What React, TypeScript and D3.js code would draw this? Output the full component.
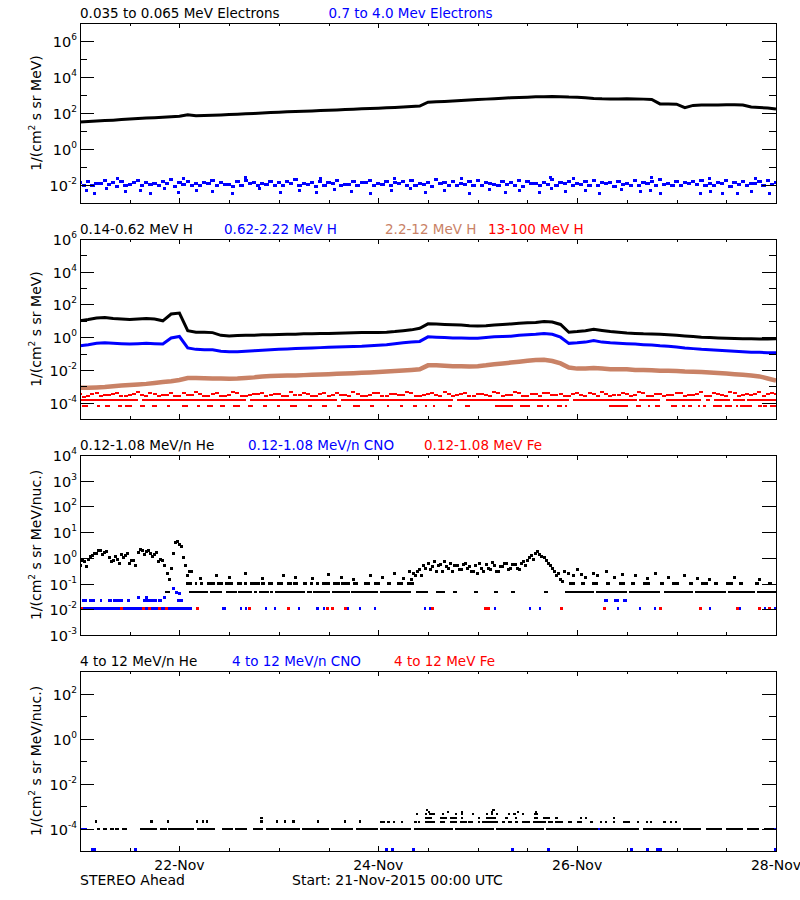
import React from "react";
import * as d3 from "d3";

// ---------------- time base ----------------
const START = Date.UTC(2015, 10, 21);
const END = Date.UTC(2015, 10, 28);
const HOUR = 3600e3;

// ---------------- titles / labels ----------------
const titles1 = ["0.035 to 0.065 MeV Electrons", "0.7 to 4.0 Mev Electrons"];
const titles2 = ["0.14-0.62 MeV H", "0.62-2.22 MeV H", "2.2-12 MeV H", "13-100 MeV H"];
const titles3 = ["0.12-1.08 MeV/n He", "0.12-1.08 MeV/n CNO", "0.12-1.08 MeV Fe"];
const titles4 = ["4 to 12 MeV/n He", "4 to 12 MeV/n CNO", "4 to 12 MeV Fe"];
const footLeft = "STEREO Ahead";
const footMid = "Start: 21-Nov-2015 00:00 UTC";

// ---------------- panel 1: electrons (2-hour samples) ----------------
const eLowBlack = [
  32, 34, 36, 38, 40, 43, 46, 49, 52, 55, 58, 62,
  66, 80, 70, 72, 75, 78, 82, 86, 90, 95, 100, 105,
  110, 116, 120, 126, 131, 137, 142, 148, 155, 162, 170, 178,
  186, 195, 205, 215, 230, 245, 400, 420, 440, 460, 490, 520,
  560, 590, 620, 660, 700, 730, 760, 790, 810, 820, 800, 770,
  760, 700, 640, 610, 600, 600, 610, 605, 590, 560, 320, 315,
  310, 200, 265, 275, 280, 280, 285, 285, 280, 215, 200, 190,
  165,
];
const eHighBlueEven = [
  0.014, 0.016, 0.012, 0.018, 0.013, 0.015, 0.011, 0.017, 0.014, 0.012, 0.016, 0.019,
  0.013, 0.015, 0.012, 0.014, 0.017, 0.013, 0.011, 0.015, 0.018, 0.014, 0.012, 0.016,
  0.013, 0.015, 0.019, 0.012, 0.014, 0.016, 0.013, 0.017, 0.011, 0.015, 0.014, 0.018,
  0.012, 0.016, 0.013, 0.015, 0.017, 0.012, 0.014, 0.019, 0.013, 0.016, 0.012, 0.015,
  0.018, 0.014, 0.011, 0.016, 0.013, 0.017, 0.015, 0.012, 0.014, 0.020, 0.013, 0.016,
  0.012, 0.015, 0.018, 0.014, 0.013, 0.016, 0.012, 0.017, 0.014, 0.015, 0.019, 0.012,
  0.016, 0.013, 0.015, 0.017, 0.012, 0.014, 0.018, 0.013, 0.016, 0.012, 0.015, 0.017,
  0.014,
];
const eHighBlueOdd = [
  0.010, 0.009, 0.012, 0.011, 0.008, 0.010, 0.013, 0.009, 0.011, 0.010, 0.012, 0.008,
  0.011, 0.010, 0.009, 0.012, 0.010, 0.011, 0.008, 0.010, 0.012, 0.009, 0.011, 0.010,
  0.009, 0.012, 0.010, 0.011, 0.008, 0.010, 0.012, 0.009, 0.011, 0.010, 0.013, 0.009,
  0.011, 0.010, 0.012, 0.009, 0.010, 0.011, 0.008, 0.012, 0.010, 0.009, 0.011, 0.010,
  0.010, 0.012, 0.009, 0.011, 0.010, 0.008, 0.012, 0.010, 0.011, 0.009, 0.012, 0.010,
  0.011, 0.009, 0.010, 0.012, 0.008, 0.011, 0.010, 0.009, 0.012, 0.010, 0.011, 0.009,
  0.010, 0.012, 0.011, 0.009, 0.010, 0.012, 0.008, 0.011, 0.010, 0.012, 0.009, 0.011,
];
const eHighBlueOutliers: [number, number][] = [
  [1.5, 0.005], [3.6, 0.0035], [6.5, 0.006], [10.9, 0.0045], [14.5, 0.005], [16.9, 0.0035],
  [20.5, 0.006], [23.7, 0.004], [28, 0.005], [31.9, 0.0045], [36.9, 0.0035], [43.4, 0.006],
  [48.3, 0.004], [53.1, 0.005], [57, 0.0038], [61.5, 0.0055], [65.6, 0.0045], [70, 0.0035],
  [75.3, 0.005], [79.7, 0.006], [83.3, 0.004], [88.1, 0.0048], [94.1, 0.0035], [98.9, 0.0055],
  [102.6, 0.004], [106.2, 0.005], [111, 0.0038], [113.9, 0.006], [117.1, 0.0045], [121.9, 0.005],
  [125.5, 0.0035], [130.8, 0.0055], [135.2, 0.0045], [137.6, 0.005], [140, 0.0032], [149.7, 0.0035],
  [152.1, 0.0045], [155, 0.0032], [158.6, 0.0035], [162.2, 0.0045], [166.5, 0.0035],
  [9, 0.024], [25, 0.023], [40, 0.025], [58, 0.022], [76, 0.024], [92, 0.023],
  [113.5, 0.026], [119, 0.024], [138, 0.025], [152, 0.022], [163, 0.024],
];

// ---------------- panel 2: protons (2-hour samples) ----------------
const hLowBlack = [
  10, 12, 15, 16, 14, 13, 12, 13, 14, 13, 10, 26,
  30, 2.5, 2.0, 2.0, 1.9, 1.3, 1.2, 1.25, 1.3, 1.3, 1.4, 1.4,
  1.45, 1.5, 1.5, 1.6, 1.6, 1.7, 1.7, 1.75, 1.8, 1.85, 1.9, 1.9,
  1.9, 2.0, 2.2, 2.5, 2.8, 3.5, 6.5, 6.3, 6.0, 5.8, 5.5, 5.0,
  4.8, 5.0, 5.5, 6.0, 6.5, 7.0, 7.5, 8.0, 9.0, 8.5, 6.0, 2.0,
  2.2, 2.5, 3.0, 2.6, 2.2, 2.0, 1.8, 1.7, 1.6, 1.55, 1.5, 1.4,
  1.3, 1.2, 1.1, 1.0, 0.95, 0.9, 0.85, 0.82, 0.8, 0.8, 0.78, 0.78,
  0.8,
];
const hMidBlue = [
  0.30, 0.35, 0.42, 0.45, 0.42, 0.40, 0.38, 0.40, 0.42, 0.40, 0.38, 0.9,
  1.1, 0.22, 0.18, 0.17, 0.17, 0.14, 0.13, 0.13, 0.14, 0.15, 0.16, 0.17,
  0.18, 0.19, 0.20, 0.21, 0.22, 0.23, 0.24, 0.25, 0.26, 0.27, 0.28, 0.30,
  0.32, 0.35, 0.40, 0.45, 0.50, 0.55, 1.05, 1.0, 0.95, 0.90, 0.88, 0.85,
  0.85, 0.95, 1.05, 1.1, 1.15, 1.3, 1.4, 1.5, 1.7, 1.5, 1.0, 0.42,
  0.45, 0.50, 0.62, 0.50, 0.45, 0.42, 0.40, 0.38, 0.35, 0.33, 0.30, 0.28,
  0.25, 0.22, 0.20, 0.18, 0.17, 0.16, 0.15, 0.14, 0.13, 0.12, 0.12, 0.11,
  0.11,
];
const hHighBrown = [
  8e-4, 8e-4, 8.5e-4, 9e-4, 1e-3, 1.1e-3, 1.2e-3, 1.3e-3, 1.4e-3, 1.6e-3, 1.8e-3, 2.0e-3,
  2.4e-3, 3.2e-3, 3.2e-3, 3.1e-3, 3.0e-3, 3.0e-3, 2.9e-3, 3.0e-3, 3.2e-3, 3.5e-3, 4.0e-3, 4.3e-3,
  4.4e-3, 4.5e-3, 4.6e-3, 4.8e-3, 5.0e-3, 5.2e-3, 5.5e-3, 5.8e-3, 6.0e-3, 6.3e-3, 6.6e-3, 7.0e-3,
  7.5e-3, 8.0e-3, 8.5e-3, 9.2e-3, 0.010, 0.011, 0.019, 0.019, 0.018, 0.017, 0.017, 0.016,
  0.017, 0.019, 0.022, 0.025, 0.028, 0.032, 0.036, 0.040, 0.042, 0.035, 0.025, 0.014,
  0.012, 0.012, 0.013, 0.012, 0.011, 0.011, 0.011, 0.010, 0.010, 0.0095, 0.009, 0.0088,
  0.0085, 0.008, 0.0078, 0.0075, 0.007, 0.0065, 0.006, 0.0055, 0.005, 0.0045, 0.004, 0.003,
  0.0022,
];
const hTopRedEven = [
  3.2e-4, 2.5e-4, 4.0e-4, 2.8e-4, 3.5e-4, 2.4e-4, 3.0e-4, 4.2e-4, 2.6e-4, 3.3e-4, 2.9e-4, 3.8e-4,
  2.5e-4, 3.1e-4, 4.4e-4, 2.7e-4, 3.4e-4, 2.4e-4, 3.0e-4, 3.9e-4, 2.6e-4, 3.2e-4, 4.1e-4, 2.8e-4,
  3.5e-4, 2.5e-4, 3.0e-4, 4.0e-4, 2.7e-4, 3.3e-4, 2.4e-4, 3.7e-4, 2.9e-4, 4.3e-4, 2.6e-4, 3.1e-4,
  3.8e-4, 2.5e-4, 3.2e-4, 2.8e-4, 4.1e-4, 2.6e-4, 3.4e-4, 3.0e-4, 4.5e-4, 2.7e-4, 3.3e-4, 2.5e-4,
  3.6e-4, 2.9e-4, 4.2e-4, 2.6e-4, 3.1e-4, 3.8e-4, 2.5e-4, 3.4e-4, 4.0e-4, 2.8e-4, 3.2e-4, 2.6e-4,
  3.9e-4, 2.7e-4, 3.3e-4, 4.4e-4, 2.5e-4, 3.0e-4, 3.6e-4, 2.8e-4, 4.1e-4, 2.6e-4, 3.4e-4, 2.9e-4,
  3.7e-4, 2.5e-4, 3.1e-4, 4.3e-4, 2.7e-4, 3.5e-4, 2.6e-4, 3.9e-4, 3.0e-4, 2.8e-4, 4.2e-4, 3.2e-4,
  3.6e-4,
];
const hTopRedOdd = [
  2.3e-4, 3.6e-4, 2.7e-4, 3.0e-4, 4.1e-4, 2.5e-4, 3.4e-4, 2.8e-4, 3.9e-4, 2.4e-4, 3.1e-4, 2.6e-4,
  4.0e-4, 2.9e-4, 3.3e-4, 2.4e-4, 3.7e-4, 2.7e-4, 4.3e-4, 2.5e-4, 3.0e-4, 3.5e-4, 2.4e-4, 3.2e-4,
  2.6e-4, 4.2e-4, 2.8e-4, 3.4e-4, 2.5e-4, 3.9e-4, 2.9e-4, 3.1e-4, 2.4e-4, 3.6e-4, 2.7e-4, 4.0e-4,
  2.5e-4, 3.3e-4, 2.9e-4, 4.4e-4, 2.6e-4, 3.1e-4, 3.8e-4, 2.4e-4, 3.5e-4, 2.8e-4, 4.1e-4, 2.6e-4,
  3.2e-4, 2.5e-4, 3.7e-4, 2.9e-4, 4.3e-4, 2.7e-4, 3.4e-4, 2.4e-4, 3.9e-4, 3.0e-4, 2.6e-4, 3.6e-4,
  2.8e-4, 4.0e-4, 2.5e-4, 3.3e-4, 2.9e-4, 3.7e-4, 2.4e-4, 4.2e-4, 2.7e-4, 3.5e-4, 2.6e-4, 3.1e-4,
  4.1e-4, 2.9e-4, 3.4e-4, 2.5e-4, 3.8e-4, 2.8e-4, 4.4e-4, 2.6e-4, 3.2e-4, 3.6e-4, 2.5e-4, 3.9e-4,
];
// quantised red levels: [startHour, endHour, value]
const hTopRedLevel: [number, number, number][] = [
  [0, 14, 1.55e-4], [15, 40, 1.55e-4], [41, 62, 1.55e-4], [63, 90, 1.55e-4], [91, 118, 1.55e-4],
  [119, 134.5, 1.55e-4], [135, 140, 1.55e-4], [141.5, 150, 1.55e-4], [151, 152, 1.55e-4],
  [153, 157, 1.55e-4], [157.5, 160.5, 1.55e-4], [161, 168, 1.55e-4],
];
const hTopRedLow: [number, number, number][] = [
  [0.4, 2, 6.5e-5], [4, 4.8, 6.5e-5], [6, 7.2, 6.5e-5], [9.2, 10.1, 6.5e-5], [10.9, 12.5, 6.5e-5],
  [14.5, 15.7, 6.5e-5], [17.4, 18.6, 6.5e-5], [21, 21.7, 6.5e-5], [24.6, 26, 6.5e-5], [28.2, 29, 6.5e-5],
  [30.7, 32.1, 6.5e-5], [33.8, 35, 6.5e-5], [37, 38.6, 6.5e-5], [40.6, 41.8, 6.5e-5], [44.2, 45.2, 6.5e-5],
  [47.5, 48.3, 6.5e-5], [50.7, 52.4, 6.5e-5], [55, 56, 6.5e-5], [58.5, 59.5, 6.5e-5], [62, 63, 6.5e-5],
  [66, 67.5, 6.5e-5], [70, 71, 6.5e-5], [74, 74.4, 6.5e-5], [77.2, 78, 6.5e-5], [80.4, 81.3, 6.5e-5],
  [83.3, 83.8, 6.5e-5], [85.2, 85.7, 6.5e-5], [88.8, 89.8, 6.5e-5], [93, 94.1, 6.5e-5], [100.2, 104.6, 6.5e-5],
  [106.2, 108.6, 6.5e-5], [110.3, 111.8, 6.5e-5], [112.7, 113, 6.5e-5], [115.1, 116.3, 6.5e-5],
  [117.1, 117.5, 6.5e-5], [127.7, 132.3, 6.5e-5], [134.2, 135.4, 6.5e-5], [137.1, 137.6, 6.5e-5],
  [138.8, 140, 6.5e-5], [142.6, 144.1, 6.5e-5], [145.3, 146, 6.5e-5], [146.8, 147.8, 6.5e-5],
  [149.2, 149.7, 6.5e-5], [150.4, 151.1, 6.5e-5], [152.8, 155, 6.5e-5], [155.7, 157.4, 6.5e-5],
  [158.3, 158.8, 6.5e-5], [159.3, 162.2, 6.5e-5], [163.6, 164.6, 6.5e-5], [164.9, 165.8, 6.5e-5],
  [166.5, 168, 6.5e-5],
];

// ---------------- panel 3: low-energy heavy ions ----------------
// hourly samples, hours 0..26
const heLowEarlyA = [0.5, 0.7, 0.9, 1.2, 1.5, 1.9, 1.6, 1.0, 0.8, 0.9, 1.3, 1.2, 0.6, 0.8, 1.6, 2.0, 1.7, 1.5, 1.3, 0.7, 0.8, 0.25, 0.4, 3.8, 3.2, 1.0, 0.2];
const heLowEarlyB = [0.8, 0.45, 1.1, 1.5, 2.0, 1.4, 1.8, 0.7, 1.1, 0.6, 1.0, 1.5, 0.8, 0.5, 2.1, 1.4, 1.9, 1.1, 1.6, 0.9, 0.5, 0.15, 1.5, 4.2, 2.8, 0.5, 0.3];
// hourly samples, hours 80..116
const heLowMidA = [0.15, 0.2, 0.35, 0.5, 0.6, 0.45, 0.3, 0.55, 0.7, 0.4, 0.3, 0.5, 0.35, 0.6, 0.45, 0.3, 0.25, 0.4, 0.55, 0.35, 0.5, 0.3, 0.45, 0.6, 0.4, 0.55, 0.35, 0.7, 0.8, 1.2, 1.5, 1.3, 1.0, 0.6, 0.4, 0.2, 0.15];
const heLowMidB = [0.25, 0.3, 0.2, 0.4, 0.35, 0.7, 0.5, 0.3, 0.45, 0.6, 0.5, 0.35, 0.55, 0.4, 0.3, 0.5, 0.6, 0.3, 0.4, 0.65, 0.3, 0.45, 0.6, 0.35, 0.55, 0.4, 0.6, 0.5, 1.0, 0.9, 1.8, 1.1, 0.8, 0.5, 0.3, 0.25, 0.12];
const heLowScatter: [number, number][] = [
  [27, 0.3], [29, 0.16], [33, 0.2], [36, 0.18], [40, 0.25], [44, 0.16], [49, 0.2], [52, 0.17],
  [56, 0.16], [60, 0.22], [63, 0.18], [66, 0.15], [70, 0.2], [73, 0.17], [76, 0.25], [78, 0.16],
  [79.5, 0.3], [117, 0.3], [118, 0.25], [119, 0.2], [120, 0.35], [121, 0.22], [122, 0.18], [124, 0.25],
  [125, 0.2], [127, 0.3], [129, 0.18], [131, 0.22], [134, 0.2], [137, 0.16], [139, 0.25], [142, 0.18],
  [146, 0.2], [149, 0.16], [152, 0.15], [158, 0.17], [164, 0.15],
];
const heLowOneCount: [number, number, number][] = [
  [20.5, 21.7, 0.048], [26.3, 30.9, 0.048], [31.4, 34.3, 0.048], [35.2, 37.9, 0.048], [38.1, 41.5, 0.048],
  [42, 42.7, 0.048], [43.2, 45.6, 0.048], [45.9, 46.6, 0.048], [47, 54.3, 0.048], [54.8, 56, 0.048],
  [56.2, 60.3, 0.048], [60.8, 65.2, 0.048], [65.5, 72, 0.048], [72.5, 80, 0.048], [81, 84, 0.048],
  [86, 88, 0.048], [90, 91, 0.048], [95, 96, 0.048], [100, 101, 0.048], [104, 105, 0.048],
  [112, 113, 0.048], [117, 124, 0.048], [124.5, 132, 0.048], [132.5, 140, 0.048], [141, 148, 0.048],
  [148.5, 156, 0.048], [156.5, 163, 0.048], [163.5, 168, 0.048],
];
const heLowTwoCount: [number, number, number][] = [
  [25.6, 27, 0.1], [27.8, 28.2, 0.1], [29, 29.7, 0.1], [30.6, 32.6, 0.1], [33.1, 34.4, 0.1],
  [35, 36.9, 0.1], [37.8, 39, 0.1], [39.5, 40.2, 0.1], [41, 43.4, 0.1], [43.7, 44.6, 0.1],
  [45.4, 46.6, 0.1], [47.5, 49.1, 0.1], [49.9, 51.1, 0.1], [51.5, 52.7, 0.1], [53.9, 54.7, 0.1],
  [55.5, 56.3, 0.1], [57, 57.8, 0.1], [58.3, 60.3, 0.1], [61.1, 62.7, 0.1], [63.1, 65.2, 0.1],
  [66, 67, 0.1], [68.5, 70, 0.1], [71, 72.5, 0.1], [74, 75, 0.1], [76.5, 78, 0.1], [79, 80.5, 0.1],
  [118, 119.5, 0.1], [121, 122, 0.1], [123.5, 125, 0.1], [127, 128, 0.1], [130, 131.5, 0.1],
  [133, 134, 0.1], [136, 137.5, 0.1], [140, 141, 0.1], [143, 144.5, 0.1], [147, 148, 0.1],
  [150, 151.5, 0.1], [153, 154, 0.1], [156, 157.5, 0.1], [159, 160, 0.1], [163, 164, 0.1], [166, 167, 0.1],
];
const cnoLowRuns: [number, number, number][] = [
  [0, 27, 0.0105], [34.3, 35.2, 0.0105], [38.6, 39, 0.0105], [39.8, 40.2, 0.0105], [44.7, 45, 0.0105],
  [46.8, 47.3, 0.0105], [52.6, 53, 0.0105], [57, 57.8, 0.0105], [58.6, 59, 0.0105], [64.4, 64.8, 0.0105],
  [67.4, 67.8, 0.0105], [71, 71.4, 0.0105], [83.1, 83.5, 0.0105], [84.3, 84.7, 0.0105], [97.6, 98, 0.0105],
  [100, 100.4, 0.0105], [108.4, 108.8, 0.0105], [110.8, 111.2, 0.0105], [126.5, 126.9, 0.0105],
  [129.6, 130, 0.0105], [135, 135.4, 0.0105], [138.6, 139, 0.0105], [149.5, 149.9, 0.0105],
  [151.9, 152.3, 0.0105], [159.1, 159.5, 0.0105], [165.1, 165.5, 0.0105], [167.6, 168, 0.0105],
  [0.5, 1.7, 0.022], [2.2, 3.5, 0.022], [4.8, 5.3, 0.022], [6.8, 7.7, 0.022], [8, 10.4, 0.022],
  [11.3, 12.1, 0.022], [15.3, 18.6, 0.022], [18.9, 19.8, 0.022], [23.4, 24.9, 0.022],
  [126.5, 127.5, 0.022], [129, 130, 0.022], [131, 132, 0.022],
];
const cnoLowDots: [number, number][] = [[22.5, 0.065], [23.2, 0.045], [24, 0.04], [16, 0.03], [14, 0.028], [20.5, 0.03]];
const feLowDots: [number, number][] = [
  [0.3, 0.0105], [10, 0.0105], [15.3, 0.0105], [16.7, 0.0105], [19.1, 0.0105], [20.9, 0.0105],
  [28.4, 0.0105], [41, 0.0105], [50.3, 0.0105], [59.8, 0.0105], [60.9, 0.0105], [64, 0.0105],
  [85, 0.0105], [97.8, 0.0105], [98.5, 0.0105], [116.3, 0.0105], [126.7, 0.0105], [140, 0.0105],
  [149.7, 0.0105], [158.8, 0.0105], [164, 0.0105], [166.5, 0.0105],
];

// ---------------- panel 4: high-energy heavy ions ----------------
const heHighRuns: [number, number, number][] = [
  [4, 4.8, 1e-4], [5.6, 6.4, 1e-4], [7.3, 8.1, 1e-4], [8.5, 9.3, 1e-4], [10.1, 11.3, 1e-4],
  [14.5, 18.5, 1e-4], [19.3, 20.9, 1e-4], [21.3, 27.4, 1e-4], [28.2, 32.6, 1e-4], [34.2, 37, 1e-4],
  [37.4, 40.2, 1e-4], [41.8, 44.2, 1e-4], [45, 53, 1e-4], [53.5, 60, 1e-4], [60.5, 66, 1e-4],
  [66.5, 72, 1e-4], [72.4, 80, 1e-4], [80.5, 90, 1e-4], [90.5, 100, 1e-4], [100.5, 112, 1e-4],
  [112.5, 125, 1e-4], [125.5, 135, 1e-4], [136, 145, 1e-4], [145.5, 150, 1e-4], [151, 155, 1e-4],
  [156, 160, 1e-4], [161, 164, 1e-4], [165, 167.5, 1e-4],
  [72.4, 73.6, 2e-4], [74, 74.8, 2e-4], [75.6, 76, 2e-4], [77.6, 78, 2e-4], [80.5, 81.3, 2e-4],
  [81.7, 82.1, 2e-4], [83.3, 85.7, 2e-4], [86.9, 88.1, 2e-4], [89.3, 90.9, 2e-4], [91.7, 93.3, 2e-4],
  [93.7, 94.9, 2e-4], [96.1, 96.5, 2e-4], [97, 101, 2e-4], [101.8, 102.6, 2e-4], [103.4, 104.2, 2e-4],
  [105, 105.8, 2e-4], [106.6, 108.6, 2e-4], [109.4, 112.6, 2e-4], [113, 114.2, 2e-4], [114.6, 116.6, 2e-4],
  [117.9, 118.7, 2e-4], [119.9, 121.1, 2e-4], [123.1, 123.9, 2e-4], [125.5, 125.9, 2e-4],
  [126.7, 127.1, 2e-4], [128.7, 129.1, 2e-4], [131.1, 132.7, 2e-4], [134.4, 134.8, 2e-4],
  [136.6, 137, 2e-4], [137.7, 138, 2e-4], [140.8, 141.4, 2e-4], [142.4, 143, 2e-4], [143.6, 144, 2e-4],
  [83.3, 84.9, 3e-4], [86.9, 88.5, 3e-4], [89.3, 90.9, 3e-4], [91.9, 92.5, 3e-4], [96.1, 96.5, 3e-4],
  [98.1, 100.5, 3e-4], [102.7, 103.2, 3e-4], [105, 105.4, 3e-4], [109.6, 110.6, 3e-4],
  [111.8, 113.4, 3e-4], [114.6, 115.4, 3e-4], [120.6, 121.2, 3e-4], [121.9, 122.3, 3e-4], [128.7, 129.1, 3e-4],
  [81, 81.3, 4.3e-4], [83.3, 83.7, 4.3e-4], [84.3, 85.7, 4.3e-4], [87.3, 87.7, 4.3e-4], [90.4, 90.7, 4.3e-4],
  [91.9, 92.3, 4.3e-4], [94.5, 94.9, 4.3e-4], [98.1, 98.5, 4.3e-4], [99.3, 99.7, 4.3e-4], [100.4, 100.7, 4.3e-4],
  [103.2, 103.6, 4.3e-4], [104.4, 105.2, 4.3e-4], [106.8, 107.2, 4.3e-4], [109.6, 110.6, 4.3e-4],
  [84.1, 84.5, 5.2e-4], [88.5, 88.9, 5.2e-4], [91.9, 92.3, 5.2e-4], [99.3, 99.7, 5.2e-4],
  [105.4, 105.8, 5.2e-4], [109.8, 110.2, 5.2e-4], [83.5, 83.9, 6.6e-4], [99.5, 100.1, 6.8e-4],
];
const heHighDots: [number, number][] = [
  [3.9, 2e-4], [17.3, 2e-4], [21.3, 2e-4], [28.2, 2e-4], [29.7, 2e-4], [30.6, 2e-4], [43.8, 2e-4],
  [43.8, 3e-4], [47.6, 2e-4], [49.5, 2e-4], [51.5, 2e-4], [57.4, 2e-4], [64, 2e-4], [67.6, 2e-4],
];
const cnoHighRuns: [number, number, number][] = [
  [0, 1.8, 1e-4], [14.5, 18.5, 1e-4], [74.2, 74.7, 1e-4], [87.9, 88.4, 1e-4], [124.9, 125.4, 1e-4], [167.5, 168, 1e-4],
];
const cnoHighDots: [number, number][] = [
  [3.1, 1.2e-5], [3.6, 1.2e-5], [13.3, 1.2e-5], [74.1, 1.2e-5], [75.5, 1.2e-5], [80.4, 1.2e-5],
  [104.3, 1.2e-5], [113, 1.2e-5], [133.2, 1.2e-5], [137.1, 1.2e-5], [139.3, 1.2e-5], [140, 1.2e-5], [167.8, 1.2e-5],
];

// ---------------- layout & style ----------------
const LEFT = 80;
const RIGHT = 776;
const PANEL_H = 180;
const PANELS = [
  { top: 23, lo: -3, hi: 7, every: 2, unit: "MeV)" },
  { top: 239, lo: -5, hi: 6, every: 2, unit: "MeV)" },
  { top: 455, lo: -3, hi: 4, every: 1, unit: "MeV/nuc.)" },
  { top: 671, lo: -5, hi: 3, every: 2, unit: "MeV/nuc.)" },
];
const TITLE_X = [[80, 328.5], [80, 224, 385, 488], [80, 248, 424], [80, 232, 394]];
const BLACK = "#000000";
const BLUE = "#0000ff";
const BROWN = "#c98266";
const RED = "#ff0000";
const TITLE_COLORS = [[BLACK, BLUE], [BLACK, BLUE, BROWN, RED], [BLACK, BLUE, RED], [BLACK, BLUE, RED]];
const FONT = "'DejaVu Sans', 'Liberation Sans', sans-serif";

export default function App() {
  const x = d3.scaleUtc().domain([new Date(START), new Date(END)]).range([LEFT, RIGHT]);
  const xh = (h: number) => x(new Date(START + h * HOUR));
  const ys = PANELS.map((p) =>
    d3.scaleLog().domain([Math.pow(10, p.lo), Math.pow(10, p.hi)]).range([p.top + PANEL_H, p.top])
  );
  const xTicks = x.ticks(d3.utcHour.every(12) as any);
  const isMajorX = (d: Date) => d.getUTCHours() === 0 && (d.getUTCDate() - 21) % 2 === 1;
  const fmt = d3.utcFormat("%d-%b");

  const linePath = (vals: number[], y: any, step: number) =>
    d3.line<number>().x((_, i) => xh(i * step)).y((d) => y(d))(vals) || "";

  const sampleRects = (vals: number[], y: any, h0: number, step: number, color: string, w: number, hgt: number, k: string) =>
    vals.map((v, i) => (
      <rect key={k + i} x={xh(h0 + i * step) - w / 2} y={y(v) - hgt / 2} width={w} height={hgt} fill={color} />
    ));

  const runRects = (runs: [number, number, number][], y: any, color: string, hgt: number, k: string) =>
    runs.map(([a, b, v], i) => (
      <rect key={k + i} x={xh(a)} y={y(v) - hgt / 2} width={Math.max(2, xh(b) - xh(a))} height={hgt} fill={color} />
    ));

  const dotRects = (dots: [number, number][], y: any, color: string, s: number, k: string) =>
    dots.map(([h, v], i) => <rect key={k + i} x={xh(h) - s / 2} y={y(v) - s / 2} width={s} height={s} fill={color} />);

  const [y1, y2, y3, y4] = ys;
  const allTitles = [titles1, titles2, titles3, titles4];

  return (
    <div style={{ position: "absolute", left: 0, top: 0, width: 800, height: 900, background: "#fff" }}>
      <svg width={800} height={900} style={{ display: "block" }} fontFamily={FONT}>
        <defs>
          {PANELS.map((p, i) => (
            <clipPath id={"clip" + i} key={i}>
              <rect x={LEFT} y={p.top} width={RIGHT - LEFT} height={PANEL_H} />
            </clipPath>
          ))}
        </defs>

        {/* panel 1 data */}
        <g clipPath="url(#clip0)">
          <path d={linePath(eLowBlack, y1, 2)} fill="none" stroke={BLACK} strokeWidth={3} />
          <g shapeRendering="crispEdges">
            {sampleRects(eHighBlueEven, y1, 0, 2, BLUE, 4.2, 3, "eb")}
            {sampleRects(eHighBlueOdd, y1, 1, 2, BLUE, 4.2, 3, "eo")}
            {dotRects(eHighBlueOutliers, y1, BLUE, 3, "ebo")}
          </g>
        </g>

        {/* panel 2 data */}
        <g clipPath="url(#clip1)">
          <path d={linePath(hLowBlack, y2, 2)} fill="none" stroke={BLACK} strokeWidth={3} />
          <path d={linePath(hMidBlue, y2, 2)} fill="none" stroke={BLUE} strokeWidth={3} />
          <path d={linePath(hHighBrown, y2, 2)} fill="none" stroke={BROWN} strokeWidth={4.5} />
          <g shapeRendering="crispEdges">
            {runRects(hTopRedLevel, y2, RED, 2, "rl")}
            {runRects(hTopRedLow, y2, RED, 2, "rlo")}
            {sampleRects(hTopRedEven, y2, 0, 2, RED, 4, 2, "re")}
            {sampleRects(hTopRedOdd, y2, 1, 2, RED, 4, 2, "ro")}
          </g>
        </g>

        {/* panel 3 data */}
        <g clipPath="url(#clip2)" shapeRendering="crispEdges">
          {runRects(heLowOneCount, y3, BLACK, 2.5, "h1")}
          {runRects(heLowTwoCount, y3, BLACK, 2.5, "h2")}
          {sampleRects(heLowEarlyA, y3, 0, 1, BLACK, 3, 3, "hea")}
          {sampleRects(heLowEarlyB, y3, 0.5, 1, BLACK, 3, 3, "heb")}
          {sampleRects(heLowMidA, y3, 80, 1, BLACK, 3, 3, "hma")}
          {sampleRects(heLowMidB, y3, 80.5, 1, BLACK, 3, 3, "hmb")}
          {dotRects(heLowScatter, y3, BLACK, 3, "hs")}
          {runRects(cnoLowRuns, y3, BLUE, 2.5, "cl")}
          {dotRects(cnoLowDots, y3, BLUE, 3, "cd")}
          {dotRects(feLowDots, y3, RED, 3, "fd")}
        </g>

        {/* panel 4 data */}
        <g clipPath="url(#clip3)" shapeRendering="crispEdges">
          {runRects(cnoHighRuns, y4, BLUE, 2, "ch")}
          {runRects(heHighRuns, y4, BLACK, 2, "hh")}
          {dotRects(heHighDots, y4, BLACK, 2.5, "hd")}
          {dotRects(cnoHighDots, y4, BLUE, 3, "cbd")}
        </g>

        {/* frames, ticks, labels */}
        {PANELS.map((p, pi) => {
          const y = ys[pi];
          const bottom = p.top + PANEL_H;
          const exps = d3.range(p.lo, p.hi + 1);
          return (
            <g key={"ax" + pi}>
              <rect x={LEFT + 0.5} y={p.top + 0.5} width={RIGHT - LEFT} height={PANEL_H} fill="none" stroke={BLACK} strokeWidth={1} shapeRendering="crispEdges" />
              {xTicks.map((d, i) => {
                const len = isMajorX(d) ? 5 : 3;
                const xx = Math.round(x(d)) + 0.5;
                return (
                  <g key={i} stroke={BLACK} strokeWidth={1} shapeRendering="crispEdges">
                    <line x1={xx} x2={xx} y1={bottom} y2={bottom - len} />
                    <line x1={xx} x2={xx} y1={p.top} y2={p.top + len} />
                  </g>
                );
              })}
              {exps.map((e) => {
                const major = (e - (p.every === 2 ? 0 : e)) % 2 === 0;
                const len = major ? 14 : 7;
                const yy = Math.round(y(Math.pow(10, e))) + 0.5;
                return (
                  <g key={"yt" + e}>
                    <g stroke={BLACK} strokeWidth={1} shapeRendering="crispEdges">
                      <line x1={LEFT} x2={LEFT + len} y1={yy} y2={yy} />
                      <line x1={RIGHT} x2={RIGHT - len} y1={yy} y2={yy} />
                    </g>
                    {major && (
                      <text x={77} y={yy + 5} textAnchor="end" fontSize={14.5} fill={BLACK}>
                        10<tspan dy={-7} fontSize={9}>{e < 0 ? "-" + Math.abs(e) : String(e)}</tspan>
                      </text>
                    )}
                  </g>
                );
              })}
              <text transform={`translate(41,${p.top + PANEL_H / 2}) rotate(-90)`} textAnchor="middle" fontSize={14} fill={BLACK}>
                1/(cm<tspan dy={-6} fontSize={9}>2</tspan>
                <tspan dy={6}>{" s sr " + p.unit}</tspan>
              </text>
              {allTitles[pi].map((t, ti) => (
                <text key={"t" + ti} x={TITLE_X[pi][ti]} y={p.top - 5} fontSize={13.5} fill={TITLE_COLORS[pi][ti]}>
                  {t}
                </text>
              ))}
            </g>
          );
        })}

        {/* bottom date labels */}
        {xTicks.filter(isMajorX).map((d, i) => (
          <text key={"xl" + i} x={x(d)} y={870} textAnchor="middle" fontSize={14} fill={BLACK}>
            {fmt(d)}
          </text>
        ))}
        <text x={80} y={885} fontSize={14} fill={BLACK}>{footLeft}</text>
        <text x={292} y={885} fontSize={14} fill={BLACK}>{footMid}</text>
      </svg>
    </div>
  );
}
